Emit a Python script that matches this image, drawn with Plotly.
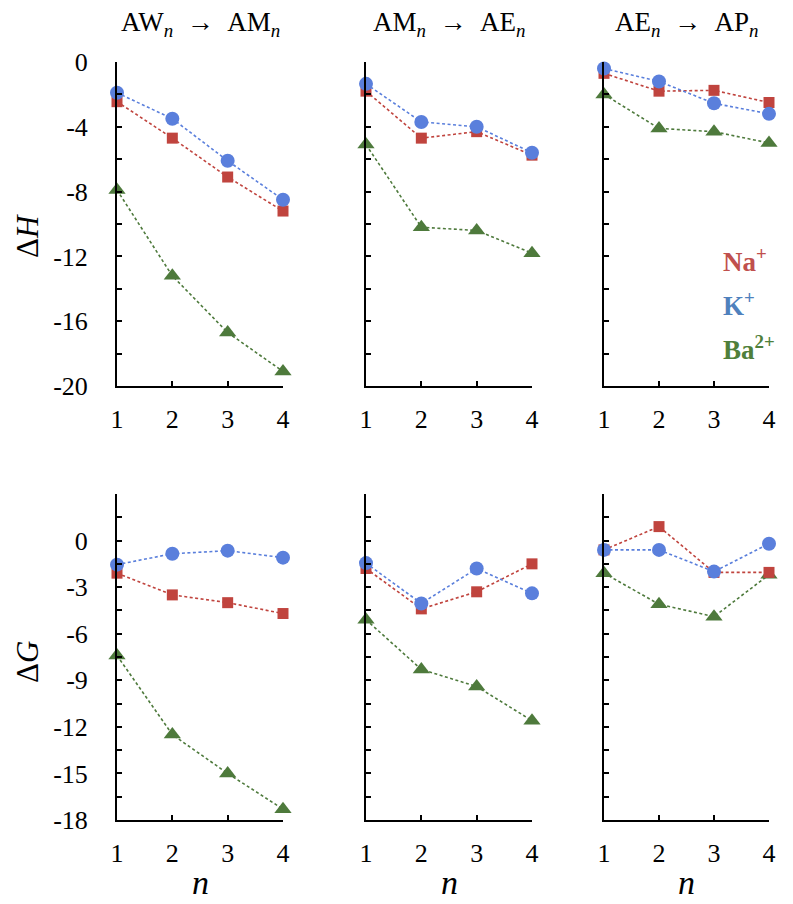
import plotly.graph_objects as go
from plotly.subplots import make_subplots

n_vals = [1, 2, 3, 4]

panel_titles = ["AW<sub><i>n</i></sub>\u2002→\u2002AM<sub><i>n</i></sub>",
                "AM<sub><i>n</i></sub>\u2002→\u2002AE<sub><i>n</i></sub>",
                "AE<sub><i>n</i></sub>\u2002→\u2002AP<sub><i>n</i></sub>"]

# ΔH (top row), one list per transition
dH_Na = [[-2.45, -4.7, -7.1, -9.2], [-1.8, -4.7, -4.3, -5.75], [-0.7, -1.8, -1.75, -2.5]]
dH_K  = [[-1.9, -3.5, -6.1, -8.5], [-1.35, -3.7, -4.0, -5.6], [-0.4, -1.2, -2.55, -3.2]]
dH_Ba = [[-7.9, -13.2, -16.7, -19.1], [-5.1, -10.2, -10.4, -11.8], [-2.0, -4.1, -4.3, -5.0]]

# ΔG (bottom row)
dG_Na = [[-2.1, -3.5, -4.0, -4.7], [-1.8, -4.4, -3.3, -1.5], [-0.6, 0.9, -2.05, -2.05]]
dG_K  = [[-1.55, -0.85, -0.65, -1.1], [-1.45, -4.05, -1.8, -3.4], [-0.6, -0.6, -2.0, -0.2]]
dG_Ba = [[-7.4, -12.5, -15.0, -17.3], [-5.1, -8.3, -9.4, -11.6], [-2.1, -4.1, -4.9, -2.2]]

ion_names = ["Na<sup>+</sup>", "K<sup>+</sup>", "Ba<sup>2+</sup>"]

dH_ticks = [0, -4, -8, -12, -16, -20]
dH_labels = ["0", "-4", "-8", "-12", "-16", "-20"]
dH_minor = [-2, -6, -10, -14, -18]
dG_ticks = [0, -3, -6, -9, -12, -15, -18]
dG_labels = ["0", "-3", "-6", "-9", "-12", "-15", "-18"]
dG_minor = [3, 1.5, -1.5, -4.5, -7.5, -10.5, -13.5, -16.5]

RED = "#C0443E"
BLUE = "#5A7FDC"
GREEN = "#4E7A3C"
RED_T = "#C0504D"
BLUE_T = "#4F81BD"
GREEN_T = "#4F7F3B"

OFF = 8  # page body margin
W, H = 793 - OFF, 904 - OFF
fig = make_subplots(rows=2, cols=3)

xdom_px = [(117, 283), (366, 532), (604, 769)]
ydom_px = [(62, 386), (494, 820)]

def px_x(p):
    return (p - OFF) / W

def px_y(p):
    return 1 - (p - OFF) / H

serif = '"Liberation Serif", "Times New Roman", Times, "DejaVu Serif", serif'

def add_series(row, col, ys, color, symbol, size, name):
    fig.add_trace(go.Scatter(
        x=n_vals, y=ys, mode="lines+markers", name=name, showlegend=False,
        line=dict(color=color, width=1.6, dash="3px,2.5px"),
        marker=dict(color=color, symbol=symbol, size=size),
        cliponaxis=False), row=row, col=col)

for c in range(3):
    add_series(1, c + 1, dH_Ba[c], GREEN, "triangle-up", 15, ion_names[2])
    add_series(1, c + 1, dH_Na[c], RED, "square", 11, ion_names[0])
    add_series(1, c + 1, dH_K[c], BLUE, "circle", 14, ion_names[1])
    add_series(2, c + 1, dG_Ba[c], GREEN, "triangle-up", 15, ion_names[2])
    add_series(2, c + 1, dG_Na[c], RED, "square", 11, ion_names[0])
    add_series(2, c + 1, dG_K[c], BLUE, "circle", 14, ion_names[1])

for r in range(2):
    for c in range(3):
        idx = r * 3 + c + 1
        xa = "xaxis" if idx == 1 else f"xaxis{idx}"
        ya = "yaxis" if idx == 1 else f"yaxis{idx}"
        x0, x1 = xdom_px[c]
        y0, y1 = ydom_px[r]
        fig.layout[xa].update(
            domain=[px_x(x0), px_x(x1)], range=[1, 4], tickvals=n_vals,
            ticktext=[str(v) for v in n_vals], automargin=False,
            showline=True, linecolor="black", linewidth=2, ticks="inside",
            ticklen=5, tickwidth=1.5, tickcolor="black", showgrid=False,
            zeroline=False, tickfont=dict(family=serif, size=26, color="black"),
            ticklabelstandoff=9)
        if r == 0:
            tv, tt, mv, rng = dH_ticks, dH_labels, dH_minor, [-20, 0]
        else:
            tv, tt, mv, rng = dG_ticks, dG_labels, dG_minor, [-18, 3]
        fig.layout[ya].update(
            domain=[px_y(y1), px_y(y0)], range=rng, tickvals=tv, ticktext=tt,
            showticklabels=(c == 0), automargin=False,
            minor=dict(tickvals=mv, ticks="inside", ticklen=5, tickwidth=1.5,
                       tickcolor="black", showgrid=False),
            showline=True, linecolor="black", linewidth=2, ticks="inside",
            ticklen=5, tickwidth=1.5, tickcolor="black", showgrid=False,
            zeroline=False, tickfont=dict(family=serif, size=26, color="black"),
            ticklabelstandoff=22)

annotations = []
for c in range(3):
    x0, x1 = xdom_px[c]
    annotations.append(dict(text=panel_titles[c], x=px_x((x0 + x1) / 2), y=px_y(24),
                            xref="paper", yref="paper", showarrow=False,
                            xanchor="center", yanchor="middle",
                            font=dict(family=serif, size=27, color="black")))
    annotations.append(dict(text="<i>n</i>", x=px_x((x0 + x1) / 2), y=px_y(882),
                            xref="paper", yref="paper", showarrow=False,
                            xanchor="center", yanchor="middle",
                            font=dict(family=serif, size=34, color="black")))

annotations.append(dict(text="Δ<i>H</i>", x=px_x(27), y=px_y(236), xref="paper", yref="paper",
                        showarrow=False, textangle=-90, xanchor="center", yanchor="middle",
                        font=dict(family=serif, size=31, color="black")))
annotations.append(dict(text="Δ<i>G</i>", x=px_x(27), y=px_y(662), xref="paper", yref="paper",
                        showarrow=False, textangle=-90, xanchor="center", yanchor="middle",
                        font=dict(family=serif, size=31, color="black")))

for name, col, ypx in [(ion_names[0], RED_T, 279), (ion_names[1], BLUE_T, 323), (ion_names[2], GREEN_T, 367)]:
    annotations.append(dict(text="<b>" + name + "</b>", x=px_x(721), y=px_y(ypx),
                            xref="paper", yref="paper", showarrow=False,
                            xanchor="left", yanchor="bottom",
                            font=dict(family=serif, size=27, color=col)))

fig.update_layout(template="none", width=W, height=H, margin=dict(l=0, r=0, t=0, b=0),
                  plot_bgcolor="white", paper_bgcolor="white",
                  font=dict(family=serif),
                  annotations=annotations, showlegend=False)

fig.write_html("out.html")
